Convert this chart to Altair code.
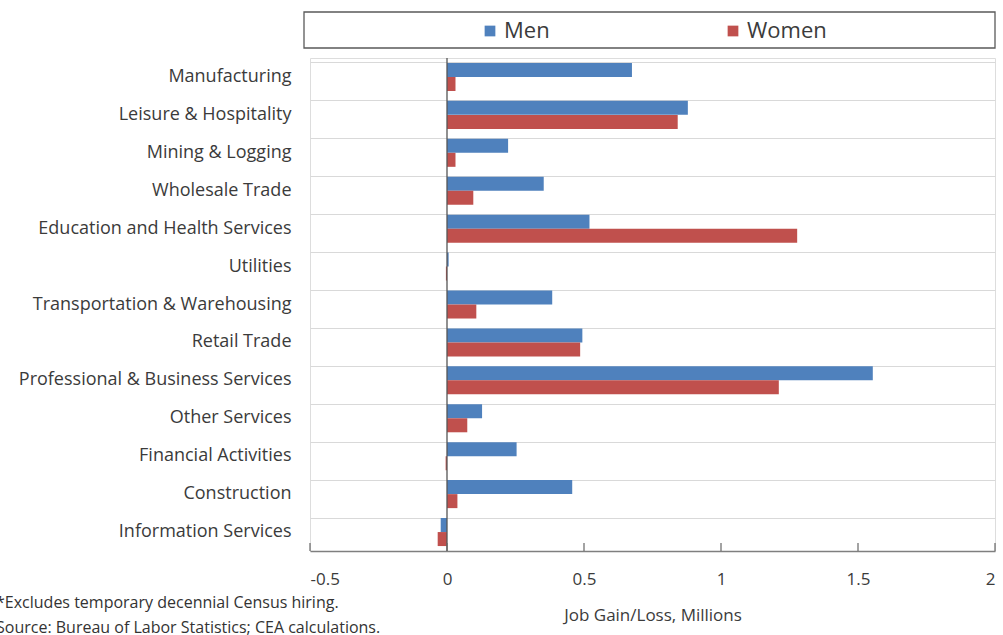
import altair as alt
import pandas as pd

categories = ["Manufacturing", "Leisure & Hospitality", "Mining & Logging", "Wholesale Trade",
              "Education and Health Services", "Utilities", "Transportation & Warehousing",
              "Retail Trade", "Professional & Business Services", "Other Services",
              "Financial Activities", "Construction", "Information Services"]
men = [0.675, 0.879, 0.223, 0.353, 0.52, 0.006, 0.384, 0.494, 1.554, 0.128, 0.254, 0.457, -0.023]
women = [0.031, 0.842, 0.031, 0.096, 1.278, -0.004, 0.107, 0.486, 1.211, 0.074, -0.005, 0.038, -0.034]
series = ["Men", "Women"]
colors = ["#4F81BD", "#C0504D"]
x_ticks = [-0.5, 0, 0.5, 1, 1.5, 2]
notes = ["*Excludes temporary decennial Census hiring.",
         "Source: Bureau of Labor Statistics; CEA calculations."]

FONT = "Open Sans"
TXT = "#3b3b3b"
W, H = 685, 493

rows = []
for c, m, w in zip(categories, men, women):
    rows.append({"Industry": c, "Sex": "Men", "Value": m})
    rows.append({"Industry": c, "Sex": "Women", "Value": w})
df = pd.DataFrame(rows)

xscale = alt.Scale(domain=[-0.5, 2], nice=False, zero=False)

box = alt.Chart(pd.DataFrame({"k": [0]})).mark_rect(
    fill="white", stroke="#5a5a5a", strokeWidth=1.3
).encode(x=alt.value(-6), x2=alt.value(W), y=alt.value(-46), y2=alt.value(-10))

bars = alt.Chart(df).mark_bar(size=14).encode(
    y=alt.Y("Industry:N", sort=categories,
            scale=alt.Scale(paddingInner=0.26, paddingOuter=0.13),
            axis=alt.Axis(title=None, domain=False, ticks=False, labelPadding=19,
                          labelFontSize=18, labelFont=FONT, labelColor=TXT, labelLimit=400,
                          grid=True, gridColor="#d9d9d9", gridWidth=1, bandPosition=0)),
    yOffset=alt.YOffset("Sex:N", sort=series, scale=alt.Scale(paddingInner=0, paddingOuter=0)),
    x=alt.X("Value:Q", scale=xscale,
            axis=alt.Axis(values=x_ticks, title="Job Gain/Loss, Millions", grid=False,
                          labelExpr="'' + datum.value",
                          ticks=False, labelPadding=20, labelFontSize=17, labelFont=FONT,
                          labelColor=TXT, titleFont=FONT, titleFontSize=17,
                          titleFontWeight="normal", titleColor=TXT, titlePadding=20,
                          domainColor="#7f7f7f", domainWidth=1.3)),
    color=alt.Color("Sex:N", sort=series, scale=alt.Scale(domain=series, range=colors),
                    legend=alt.Legend(title=None, orient="none", direction="horizontal",
                                      legendX=169, legendY=-38, symbolType="square",
                                      symbolSize=115, symbolStrokeWidth=0,
                                      labelFont=FONT, labelFontSize=22, labelColor=TXT,
                                      labelOffset=3, columnPadding=172, padding=0)),
)

zero = alt.Chart(pd.DataFrame({"v": [0]})).mark_rule(color="#555555", strokeWidth=1.3).encode(
    x=alt.X("v:Q", scale=xscale))

ticks = alt.Chart(pd.DataFrame({"v": x_ticks})).mark_rule(color="#666666", strokeWidth=1.2).encode(
    x=alt.X("v:Q", scale=xscale), y=alt.value(H - 8), y2=alt.value(H))

note_df = pd.DataFrame({"t": notes, "i": [0, 1]})
foot = alt.Chart(note_df).mark_text(
    align="left", baseline="middle", font=FONT, fontSize=16, color="#333333"
).encode(
    text="t:N",
    x=alt.value(-314),
    y=alt.Y("i:Q", scale=alt.Scale(domain=[0, 1], range=[H + 52, H + 77]), axis=None),
)

chart = alt.layer(box, bars, zero, ticks, foot).resolve_scale(y="independent").properties(
    width=W, height=H,
    autosize=alt.AutoSizeParams(type="none"),
    padding={"left": 310, "top": 58, "right": 8, "bottom": 84},
).configure_view(stroke="#9a9a9a", strokeWidth=1.2).configure(background="white")

chart.save("out.html", embed_options={"renderer": "svg", "actions": False})
